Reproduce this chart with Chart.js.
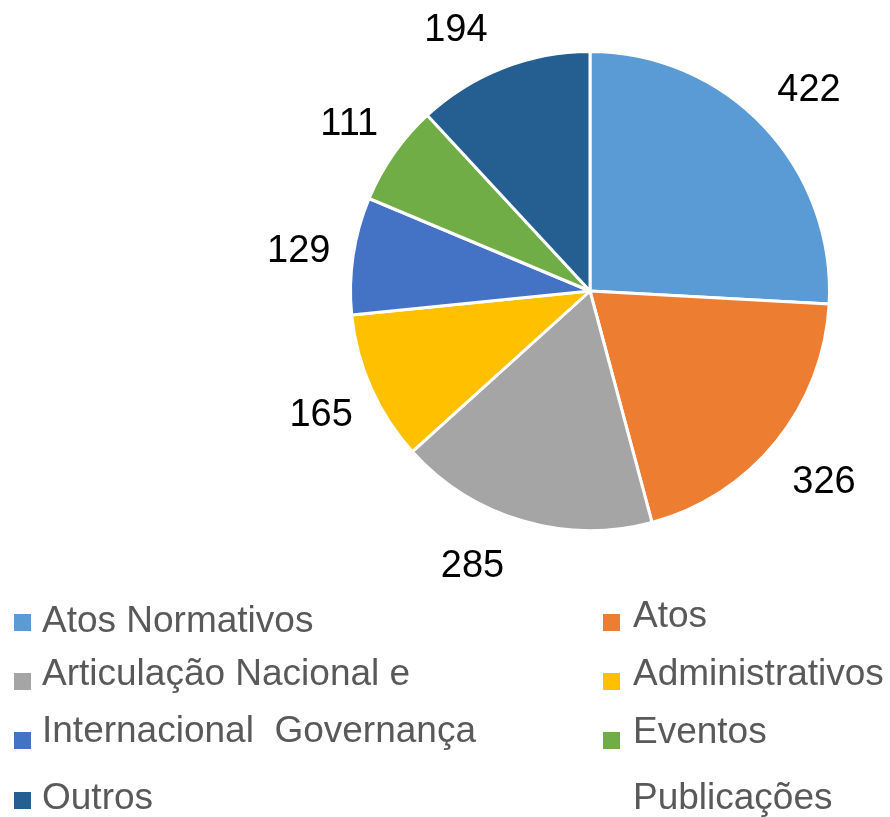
<!DOCTYPE html>
<html lang="pt-BR">
<head>
<meta charset="utf-8">
<title>Distribuição</title>
<script src="https://cdn.jsdelivr.net/npm/chart.js@4"></script>
<style>
  html, body { margin: 0; padding: 0; background: #fff; }
  #wrap { position: relative; width: 890px; height: 817px; overflow: hidden; }
  #grafico { position: absolute; left: 0; top: 0; }
  .leg { position: absolute; font-family: "Liberation Sans", Arial, sans-serif; font-size: 37px;
         color: #595959; white-space: pre; line-height: 1; }
  .mk { position: absolute; width: 17px; height: 17px; }
</style>
</head>
<body>
<div id="wrap">
  <canvas id="grafico" width="890" height="817"></canvas>
</div>
<script>
const categorias = ['Atos Normativos', 'Atos Administrativos', 'Articulação Nacional e Internacional',
  'Governança', 'Eventos', 'Publicações', 'Outros'];
const valores = [422, 326, 285, 165, 129, 111, 194];
const cores = ['#5B9BD5', '#ED7D31', '#A5A5A5', '#FFC000', '#4472C4', '#70AD47', '#255E91'];

// legenda como aparece no original (quebrada em linhas)
const legendaEsq = ['Atos Normativos', 'Articulação Nacional e', 'Internacional  Governança', 'Outros'];
const marcadorEsq = [0, 2, 4, 6];
const legendaDir = ['Atos', 'Administrativos', 'Eventos', 'Publicações'];
const marcadorDir = [1, 3, 5, null];

// ─── Rótulos de valor ───────────────────────────────────────────────────────
// fora da fatia, a distância fixa do centro; se sair da área, desliza sobre o círculo
const rotulos = {
  id: 'rotulos',
  afterDatasetsDraw(chart) {
    const { ctx } = chart;
    const meta = chart.getDatasetMeta(0);
    const yMin = 27, yMax = 563;
    ctx.save();
    ctx.font = '38px "Liberation Sans", Arial, sans-serif';
    ctx.fillStyle = '#000';
    ctx.textAlign = 'center';
    ctx.textBaseline = 'middle';
    meta.data.forEach((arc, i) => {
      const mid = (arc.startAngle + arc.endAngle) / 2;
      const d = arc.outerRadius + 58;
      let x = arc.x + Math.cos(mid) * d;
      let y = arc.y + Math.sin(mid) * d;
      if (y < yMin || y > yMax) {
        y = Math.min(Math.max(y, yMin), yMax);
        const dy = y - arc.y;
        const dx = Math.sqrt(Math.max(d * d - dy * dy, 0));
        x = arc.x + (Math.cos(mid) < 0 ? -dx : dx);
      }
      ctx.fillText(String(valores[i]), x + 3, y + 4);
    });
    ctx.restore();
  },
};

new Chart(document.getElementById('grafico'), {
  type: 'pie',
  plugins: [rotulos],
  data: {
    labels: categorias,
    datasets: [{
      data: valores,
      backgroundColor: cores,
      borderColor: '#fff',
      borderWidth: 3,
      hoverOffset: 0,
    }],
  },
  options: {
    responsive: false,
    animation: false,
    layout: { padding: { left: 349, right: 59, top: 50, bottom: 285 } },
    plugins: { legend: { display: false }, tooltip: { enabled: false } },
  },
});

// ─── Legenda ────────────────────────────────────────────────────────────────
const wrap = document.getElementById('wrap');
const textoEsq = [601, 654, 711, 778];
const textoDir = [596, 654, 712, 778];
const quadEsq = [614, 673, 732, 792];
const quadDir = [614, 673, 732, 0];

function linhaLegenda(txt, cor, xm, ym, xt, yt) {
  if (cor != null) {
    const m = document.createElement('div');
    m.className = 'mk';
    m.style.left = xm + 'px';
    m.style.top = ym + 'px';
    m.style.background = cores[cor];
    wrap.appendChild(m);
  }
  const d = document.createElement('div');
  d.className = 'leg';
  d.style.left = xt + 'px';
  d.style.top = yt + 'px';
  d.textContent = txt;
  wrap.appendChild(d);
}

legendaEsq.forEach((txt, i) => linhaLegenda(txt, marcadorEsq[i], 14, quadEsq[i], 42, textoEsq[i]));
legendaDir.forEach((txt, i) => linhaLegenda(txt, marcadorDir[i], 603, quadDir[i], 633, textoDir[i]));
</script>
</body>
</html>
